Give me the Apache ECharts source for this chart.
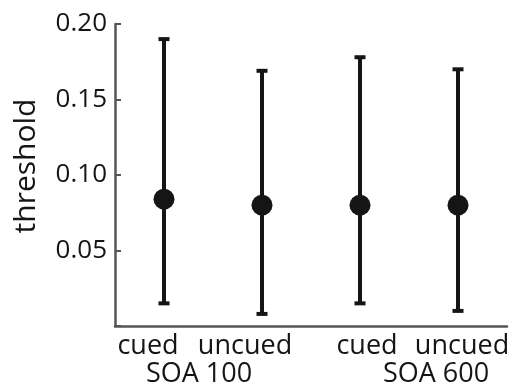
<!DOCTYPE html>
<html>
<head>
<meta charset="utf-8">
<script src="https://cdn.jsdelivr.net/npm/echarts@6/dist/echarts.min.js"></script>
<style>html,body{margin:0;padding:0;background:#fff}#c{width:518px;height:388px}</style>
</head>
<body>
<div id="c"></div>
<script>
var conditions = ['cued', 'uncued', 'cued', 'uncued'];
var groups = ['SOA 100', 'SOA 600'];
var means = [0.084, 0.080, 0.080, 0.080];
var upper = [0.190, 0.169, 0.178, 0.170];
var lower = [0.015, 0.008, 0.015, 0.010];
var yTicks = [0, 0.05, 0.10, 0.15, 0.20];

var FONT = 'Open Sans';
var INK = '#151515';
var AXIS = '#555555';

var condPad = [[0, 32, 0, 0], [0, 34, 0, 0], [0, 0, 0, 14], [0, 0, 0, 8]];
var groupPad = [[0, 28, 0, 0], [0, 0, 0, 54]];

var chart = echarts.init(document.getElementById('c'), null, {renderer: 'canvas'});
var errData = conditions.map(function (c, i) { return [i, lower[i], upper[i]]; });
var meanData = conditions.map(function (c, i) { return [i, means[i]]; });

var condRich = {}, groupRich = {};
condPad.forEach(function (p, i) { condRich['c' + i] = {padding: p, fontFamily: FONT, fontSize: 27, color: INK}; });
groupPad.forEach(function (p, i) { groupRich['g' + i] = {padding: p, fontFamily: FONT, fontSize: 27, color: INK}; });

chart.setOption({
  animation: false,
  grid: {left: 115, right: 11, top: 24, bottom: 61},
  xAxis: [{
    type: 'category',
    data: conditions,
    boundaryGap: true,
    axisLine: {lineStyle: {color: AXIS, width: 2.5}},
    axisTick: {inside: true, alignWithLabel: true, length: 5, lineStyle: {color: AXIS, width: 2}},
    axisLabel: {
      margin: 7,
      formatter: function (v, i) { return '{c' + i + '|' + v + '}'; },
      rich: condRich
    },
    splitLine: {show: false}
  }, {
    type: 'category',
    data: groups,
    position: 'bottom',
    offset: 0,
    boundaryGap: true,
    axisLine: {show: false},
    axisTick: {show: false},
    axisLabel: {
      margin: 35,
      formatter: function (v, i) { return '{g' + i + '|' + v + '}'; },
      rich: groupRich
    },
    splitLine: {show: false}
  }],
  yAxis: {
    type: 'value',
    min: 0, max: 0.20, interval: 0.05,
    name: 'threshold',
    nameLocation: 'middle',
    nameGap: 74,
    nameTextStyle: {fontFamily: FONT, fontSize: 30, color: INK, padding: [0, 0, 0, 18]},
    axisLine: {show: true, lineStyle: {color: AXIS, width: 2.5}},
    axisTick: {show: true, inside: true, length: 6, lineStyle: {color: AXIS, width: 2}},
    axisLabel: {
      margin: 8,
      fontFamily: FONT, fontSize: 26, color: INK,
      formatter: function (v) { return v === yTicks[0] ? '' : v.toFixed(2); }
    },
    splitLine: {show: false}
  },
  series: [{
    type: 'custom',
    data: errData,
    z: 2,
    renderItem: function (params, api) {
      var x = api.value(0);
      var lo = api.coord([x, api.value(1)]);
      var hi = api.coord([x, api.value(2)]);
      var hw = 5.5;
      var st = {stroke: INK, lineWidth: 4};
      return {
        type: 'group',
        children: [
          {type: 'line', shape: {x1: lo[0], y1: lo[1], x2: hi[0], y2: hi[1]}, style: st},
          {type: 'line', shape: {x1: hi[0] - hw, y1: hi[1], x2: hi[0] + hw, y2: hi[1]}, style: st},
          {type: 'line', shape: {x1: lo[0] - hw, y1: lo[1], x2: lo[0] + hw, y2: lo[1]}, style: st}
        ]
      };
    }
  }, {
    type: 'scatter',
    data: meanData,
    z: 3,
    symbol: 'circle',
    symbolSize: 21,
    itemStyle: {color: INK, opacity: 1}
  }]
});
</script>
</body>
</html>
